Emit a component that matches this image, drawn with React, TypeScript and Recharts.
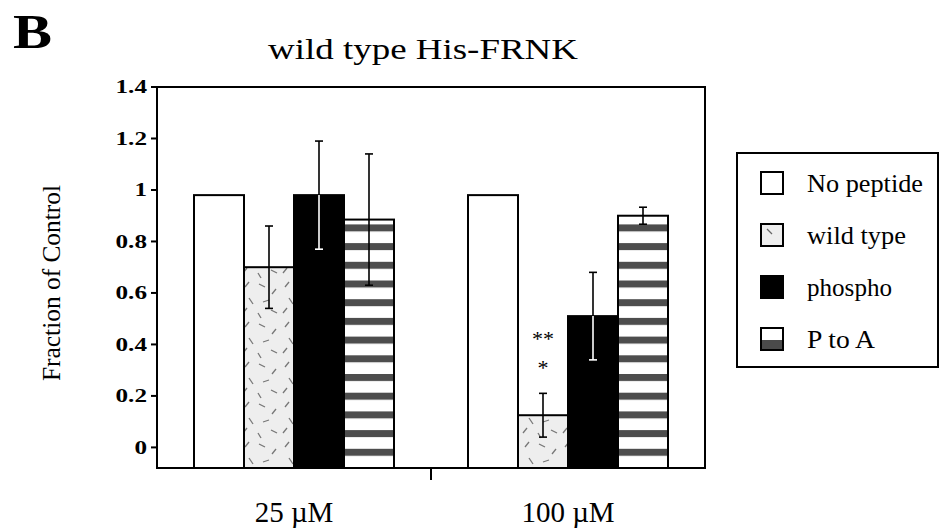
import React from "react";
import { BarChart, Bar, XAxis, YAxis, LabelList, ReferenceArea } from "recharts";

const categories = ["25 µM", "100 µM"];
const seriesNames = ["No peptide", "wild type", "phospho", "P to A"];
const noPeptide = [0.98, 0.98];
const wildType = [0.7, 0.125];
const phospho = [0.98, 0.51];
const pToA = [0.885, 0.9];
const noPeptideErr = [0, 0];
const wildTypeErr = [0.16, 0.085];
const phosphoErr = [0.21, 0.17];
const pToAErr = [0.255, 0.033];
const starsTop = ["", "**"];
const starsBottom = ["", "*"];
const yTicks = [0, 0.2, 0.4, 0.6, 0.8, 1, 1.2, 1.4];

// Excel-style bars start at the bottom of the plot, not at 0
const BASE = -0.08;
const TOP = 1.4;

const data = categories.map((name, i) => ({
  name,
  noPeptide: [BASE, noPeptide[i]],
  wildType: [BASE, wildType[i]],
  phospho: [BASE, phospho[i]],
  pToA: [BASE, pToA[i]],
  noPeptideV: noPeptide[i],
  wildTypeV: wildType[i],
  phosphoV: phospho[i],
  pToAV: pToA[i],
  noPeptideE: noPeptideErr[i],
  wildTypeE: wildTypeErr[i],
  phosphoE: phosphoErr[i],
  pToAE: pToAErr[i],
  starsTop: starsTop[i],
  starsBottom: starsBottom[i],
}));

const serif = "'Liberation Serif', 'DejaVu Serif', serif";

function makeShape(key: string, fill: string, splitErr: boolean) {
  return (props: any) => {
    const { x, y, width, height, payload } = props;
    const v = payload[key + "V"];
    const e = payload[key + "E"];
    const ppu = height / (v - BASE);
    const cx = x + width / 2;
    const top = y - e * ppu;
    const bot = y + e * ppu;
    const lowColor = splitErr ? "#fff" : "#000";
    return (
      <g>
        <rect x={x} y={y} width={width} height={height} fill={fill} stroke="#000" strokeWidth={2} />
        {e > 0 && (
          <g strokeWidth={1.6}>
            <line x1={cx} x2={cx} y1={top} y2={y} stroke="#000" />
            <line x1={cx} x2={cx} y1={y} y2={bot} stroke={lowColor} />
            <line x1={cx - 4} x2={cx + 4} y1={top} y2={top} stroke="#000" />
            <line x1={cx - 4} x2={cx + 4} y1={bot} y2={bot} stroke={lowColor} />
          </g>
        )}
      </g>
    );
  };
}

const XTick = (props: any) => {
  const { x, y, payload, index } = props;
  const half = payload && payload.offset ? payload.offset : 137;
  return (
    <g>
      {index === 0 && <line x1={x + half} x2={x + half} y1={y} y2={y + 12} stroke="#000" strokeWidth={2} />}
      <text x={x} y={y + 54} textAnchor="middle" fontFamily={serif} fontSize={29} fill="#000">
        {payload.value}
      </text>
    </g>
  );
};

const YTick = (props: any) => {
  const { x, y, payload } = props;
  return (
    <g transform={`translate(${x},${y}) scale(1.4,1)`}>
      <text x={0} y={0} dy="0.35em" textAnchor="end" fontFamily={serif} fontWeight="bold" fontSize={18} fill="#000">
        {String(payload.value)}
      </text>
    </g>
  );
};

const StarLabel = (props: any) => {
  const { x, y, width, value, offset } = props;
  if (!value) return null;
  return (
    <text x={x + width / 2} y={y - offset} textAnchor="middle" fontFamily={serif} fontSize={22} fill="#000">
      {value}
    </text>
  );
};

function Legend() {
  const rows = [
    { label: seriesNames[0], kind: "white", len: 116 },
    { label: seriesNames[1], kind: "dots", len: 99 },
    { label: seriesNames[2], kind: "black", len: 85 },
    { label: seriesNames[3], kind: "stripes", len: 68 },
  ];
  return (
    <svg width={944} height={529} style={{ position: "absolute", left: 0, top: 0 }}>
      <rect x={737} y={153} width={201} height={214} fill="#fff" stroke="#000" strokeWidth={2} />
      {rows.map((r, i) => {
        const y0 = 172 + i * 52;
        return (
          <g key={r.label}>
            {r.kind === "white" && <rect x={761} y={y0} width={22} height={22} fill="#fff" stroke="#000" strokeWidth={2} />}
            {r.kind === "dots" && (
              <g>
                <rect x={761} y={y0} width={22} height={22} fill="#eeeeee" stroke="#000" strokeWidth={2} />
                <line x1={767} y1={y0 + 5} x2={772} y2={y0 + 10} stroke="#666" strokeWidth={1.2} />
              </g>
            )}
            {r.kind === "black" && <rect x={761} y={y0} width={22} height={22} fill="#000" stroke="#000" strokeWidth={2} />}
            {r.kind === "stripes" && (
              <g>
                <rect x={761} y={y0} width={22} height={22} fill="#fff" stroke="#000" strokeWidth={2} />
                <rect x={762} y={y0 + 12} width={20} height={9} fill="#4a4a4a" />
              </g>
            )}
            <text
              x={807}
              y={y0 + 20}
              fontFamily={serif}
              fontSize={25}
              fill="#000"
              textLength={r.len}
              lengthAdjust="spacingAndGlyphs"
            >
              {r.label}
            </text>
          </g>
        );
      })}
    </svg>
  );
}

export default function App() {
  return (
    <div style={{ position: "absolute", left: 0, top: 0, width: 944, height: 529, background: "#fff" }}>
      <svg width={944} height={529} style={{ position: "absolute", left: 0, top: 0 }}>
        <text x={13} y={48} fontFamily={serif} fontWeight="bold" fontSize={48} fill="#000" textLength={39} lengthAdjust="spacingAndGlyphs">
          B
        </text>
        <text
          x={423}
          y={59}
          textAnchor="middle"
          fontFamily={serif}
          fontSize={30}
          fill="#000"
          textLength={310}
          lengthAdjust="spacingAndGlyphs"
        >
          wild type His-FRNK
        </text>
        <text
          x={60}
          y={283}
          transform="rotate(-90 60 283)"
          textAnchor="middle"
          fontFamily={serif}
          fontSize={26}
          fill="#000"
          textLength={196}
          lengthAdjust="spacingAndGlyphs"
        >
          Fraction of Control
        </text>
      </svg>
      <div style={{ position: "absolute", left: 0, top: 0 }}>
        <BarChart
          width={944}
          height={529}
          data={data}
          margin={{ top: 87, right: 239, bottom: 11, left: 0 }}
          barCategoryGap={37}
          barGap={0}
        >
          <defs>
            <pattern id="dashes" patternUnits="userSpaceOnUse" width={40} height={40}>
              <rect width={40} height={40} fill="#eeeeee" />
              <g stroke="#777" strokeWidth={1.3}>
                <line x1={5} y1={7} x2={9} y2={2} />
                <line x1={19} y1={4} x2={25} y2={7} />
                <line x1={32} y1={14} x2={36} y2={9} />
                <line x1={9} y1={18} x2={13} y2={24} />
                <line x1={23} y1={22} x2={29} y2={20} />
                <line x1={3} y1={33} x2={7} y2={28} />
                <line x1={18} y1={33} x2={21} y2={38} />
                <line x1={31} y1={30} x2={37} y2={33} />
              </g>
            </pattern>
            <pattern id="stripes" patternUnits="userSpaceOnUse" width={10} height={18.7}>
              <rect width={10} height={18.7} fill="#fff" />
              <rect y={0} width={10} height={7} fill="#4d4d4d" />
            </pattern>
          </defs>
          <ReferenceArea y1={BASE} y2={TOP} fill="none" stroke="#000" strokeWidth={2} ifOverflow="visible" />
          <XAxis
            dataKey="name"
            height={50}
            tickLine={false}
            tickSize={0}
            tickMargin={0}
            axisLine={{ stroke: "#000", strokeWidth: 2 }}
            tick={<XTick />}
          />
          <YAxis
            width={157}
            domain={[BASE, TOP]}
            ticks={yTicks}
            allowDataOverflow
            tickSize={6}
            tickMargin={4}
            tickLine={{ stroke: "#000", strokeWidth: 2 }}
            axisLine={{ stroke: "#000", strokeWidth: 2 }}
            tick={<YTick />}
          />
          <Bar dataKey="noPeptide" name={seriesNames[0]} isAnimationActive={false} shape={makeShape("noPeptide", "#fff", false)} />
          <Bar dataKey="wildType" name={seriesNames[1]} isAnimationActive={false} shape={makeShape("wildType", "url(#dashes)", false)}>
            <LabelList dataKey="starsTop" content={<StarLabel />} offset={69} />
            <LabelList dataKey="starsBottom" content={<StarLabel />} offset={40} />
          </Bar>
          <Bar dataKey="phospho" name={seriesNames[2]} isAnimationActive={false} shape={makeShape("phospho", "#000", true)} />
          <Bar dataKey="pToA" name={seriesNames[3]} isAnimationActive={false} shape={makeShape("pToA", "url(#stripes)", false)} />
        </BarChart>
      </div>
      <Legend />
    </div>
  );
}
